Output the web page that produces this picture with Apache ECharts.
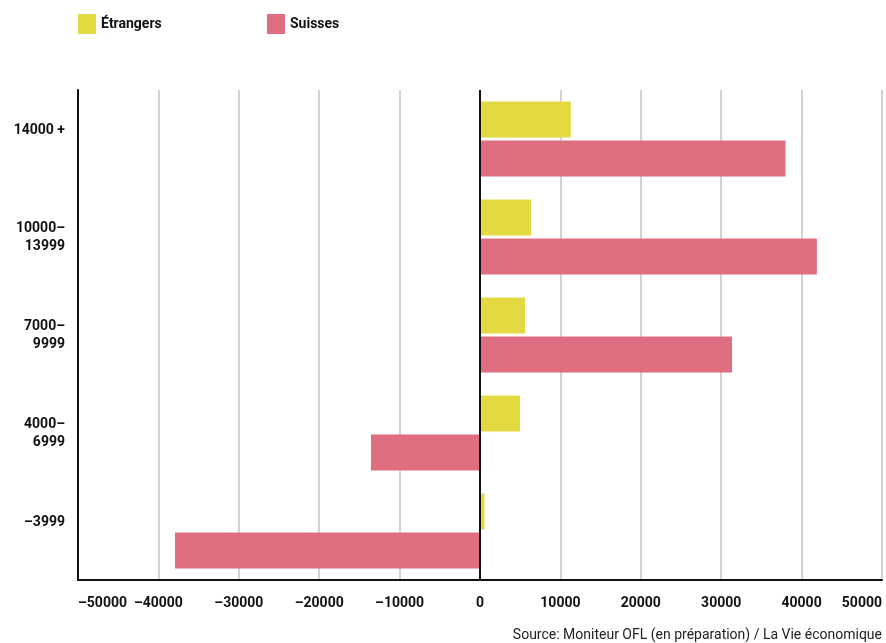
<!DOCTYPE html>
<html>
<head>
<meta charset="utf-8">
<script src="https://cdn.jsdelivr.net/npm/echarts@6/dist/echarts.min.js"></script>
<style>
    html, body { margin: 0; padding: 0; background: #fff; }
    #chart { width: 886px; height: 643px; }
</style>
</head>
<body>
<div id="chart"></div>
<script>
    // revenus (classes), de haut en bas
    var categories = ['14000 +', '10000–\n13999', '7000–\n9999', '4000–\n6999', '–3999'];
    var etrangers = [11300, 6340, 5600, 4980, 560];
    var suisses = [38000, 41900, 31340, -13560, -37940];
    var source = 'Source: Moniteur OFL (en préparation) / La Vie économique';

    var font = 'Roboto, "Open Sans", sans-serif';
    var myChart = echarts.init(document.getElementById('chart'));

    var legendText = { fontFamily: font, fontSize: 14, fontWeight: 'bold', color: '#111', padding: [3, 0, 0, 0] };

    var option = {
        animation: false,
        textStyle: { fontFamily: font },
        legend: [
            {
                left: 78, top: 14, padding: 0,
                itemWidth: 18, itemHeight: 20,
                icon: 'rect',
                data: ['Étrangers'],
                textStyle: legendText
            },
            {
                left: 267, top: 14, padding: 0,
                itemWidth: 18, itemHeight: 20,
                icon: 'rect',
                data: ['Suisses'],
                textStyle: legendText
            }
        ],
        grid: {
            left: 78,
            right: 4,
            top: 90,
            bottom: 63
        },
        xAxis: {
            type: 'value',
            min: -50000,
            max: 50000,
            interval: 10000,
            axisLine: { show: true, onZero: false, lineStyle: { color: '#111', width: 2 } },
            axisTick: { show: false },
            splitLine: { show: true, lineStyle: { color: '#d2d2d2', width: 2 } },
            axisLabel: {
                margin: 16,
                fontFamily: font,
                fontSize: 14,
                fontWeight: 'bold',
                color: '#111',
                alignMinLabel: 'left',
                alignMaxLabel: 'right',
                formatter: function (v) { return String(v).replace('-', '–'); }
            }
        },
        yAxis: {
            type: 'category',
            inverse: true,
            data: categories,
            axisLine: { show: true, onZero: false, lineStyle: { color: '#111', width: 2 } },
            axisTick: { show: false },
            splitLine: { show: false },
            axisLabel: {
                margin: 13,
                fontFamily: font,
                fontSize: 14,
                fontWeight: 'bold',
                color: '#111',
                lineHeight: 18,
                align: 'right',
                // une seule ligne : placée comme la première ligne d'un libellé double
                formatter: function (v) { return v.indexOf('\n') < 0 ? v + '\n\u00a0' : v; }
            }
        },
        series: [
            {
                name: 'Étrangers',
                type: 'bar',
                barWidth: 36,
                barGap: '8%',
                itemStyle: { color: '#e3d940' },
                data: etrangers,
                markLine: {
                    silent: true,
                    symbol: 'none',
                    label: { show: false },
                    lineStyle: { color: '#111', width: 2, type: 'solid' },
                    data: [{ xAxis: 0 }]
                },
                z: 3
            },
            {
                name: 'Suisses',
                type: 'bar',
                barWidth: 36,
                barGap: '8%',
                itemStyle: { color: '#de6e80' },
                data: suisses
            }
        ],
        graphic: [
            {
                type: 'text',
                right: 4,
                top: 628,
                style: {
                    text: source,
                    fontFamily: font,
                    fontSize: 14,
                    fill: '#222'
                }
            }
        ]
    };

    myChart.setOption(option);
</script>
</body>
</html>
